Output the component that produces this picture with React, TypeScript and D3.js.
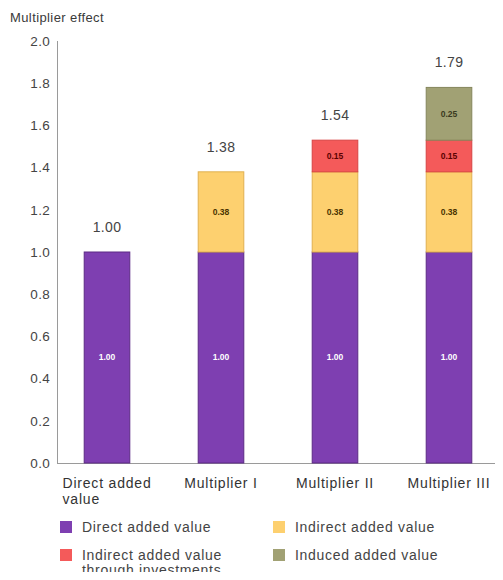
import React, { useEffect, useRef } from "react";
import * as d3 from "d3";

const categories = ["Direct added value", "Multiplier I", "Multiplier II", "Multiplier III"];
const categoryLines = [["Direct added", "value"], ["Multiplier I"], ["Multiplier II"], ["Multiplier III"]];
const directValues = [1.0, 1.0, 1.0, 1.0];
const indirectValues = [0, 0.38, 0.38, 0.38];
const investmentValues = [0, 0, 0.15, 0.15];
const inducedValues = [0, 0, 0, 0.25];
const totals = [1.0, 1.38, 1.54, 1.79];
const yTicks = [0, 0.2, 0.4, 0.6, 0.8, 1.0, 1.2, 1.4, 1.6, 1.8, 2.0];

const seriesKeys = ["direct", "indirect", "investments", "induced"];
const seriesNames = [
  ["Direct added value"],
  ["Indirect added value"],
  ["Indirect added value", "through investments"],
  ["Induced added value"],
];
const fills = ["#7e3fb1", "#fdd06f", "#f45a5a", "#a1a174"];
const strokes = ["#5c2a85", "#e0b050", "#d84444", "#85865c"];
const labelColors = ["#ffffff", "#4a3300", "#5a0000", "#3a3a20"];

const WIDTH = 503;
const HEIGHT = 580;
const FONT = "'Liberation Sans', Arial, sans-serif";

export default function App() {
  const svgRef = useRef<SVGSVGElement>(null);

  useEffect(() => {
    if (!svgRef.current) return;
    const svg = d3.select(svgRef.current);
    svg.selectAll("*").remove();

    const rows = categories.map((c, i) => ({
      category: c,
      direct: directValues[i],
      indirect: indirectValues[i],
      investments: investmentValues[i],
      induced: inducedValues[i],
    }));

    const x = d3
      .scaleBand<string>()
      .domain(categories)
      .range([50, 506])
      .paddingInner(0.6)
      .paddingOuter(0.3);

    const y = d3.scaleLinear().domain([0, 2]).range([463, 41]);

    const stack = d3.stack<any>().keys(seriesKeys);
    const stacked = stack(rows);

    // Title
    svg
      .append("text")
      .attr("x", 10)
      .attr("y", 22)
      .attr("font-family", FONT)
      .attr("font-size", 13)
      .attr("letter-spacing", 0.4)
      .attr("fill", "#3a3a3a")
      .text("Multiplier effect");

    // Axes
    svg
      .append("line")
      .attr("x1", 57.5)
      .attr("x2", 57.5)
      .attr("y1", y(2))
      .attr("y2", y(0))
      .attr("stroke", "#9a9a9a");

    svg
      .append("line")
      .attr("x1", 57)
      .attr("x2", 496)
      .attr("y1", y(0) + 0.5)
      .attr("y2", y(0) + 0.5)
      .attr("stroke", "#9a9a9a");

    svg
      .append("g")
      .selectAll("text")
      .data(yTicks)
      .join("text")
      .attr("x", 50)
      .attr("y", (d) => y(d))
      .attr("dy", "0.35em")
      .attr("text-anchor", "end")
      .attr("font-family", FONT)
      .attr("font-size", 13.5)
      .attr("letter-spacing", 0.3)
      .attr("fill", "#444")
      .text((d) => d3.format(".1f")(d));

    // Bars
    stacked.forEach((layer, si) => {
      const g = svg.append("g");
      layer.forEach((seg, i) => {
        const h = y(seg[0]) - y(seg[1]);
        if (h <= 0) return;
        g.append("rect")
          .attr("x", x(categories[i])!)
          .attr("y", y(seg[1]))
          .attr("width", x.bandwidth())
          .attr("height", h)
          .attr("fill", fills[si])
          .attr("stroke", strokes[si])
          .attr("stroke-width", 1);
        const v = (rows[i] as any)[seriesKeys[si]];
        g.append("text")
          .attr("x", x(categories[i])! + x.bandwidth() / 2)
          .attr("y", y((seg[0] + seg[1]) / 2))
          .attr("dy", "0.35em")
          .attr("text-anchor", "middle")
          .attr("font-family", FONT)
          .attr("font-size", 8.5)
          .attr("font-weight", "bold")
          .attr("fill", labelColors[si])
          .text(d3.format(".2f")(v));
      });
    });

    // Totals
    svg
      .append("g")
      .selectAll("text")
      .data(totals)
      .join("text")
      .attr("x", (_, i) => x(categories[i])! + x.bandwidth() / 2)
      .attr("y", (d, i) => y(stacked[stacked.length - 1][i][1]) - 20)
      .attr("text-anchor", "middle")
      .attr("font-family", FONT)
      .attr("font-size", 14)
      .attr("letter-spacing", 0.3)
      .attr("fill", "#444")
      .text((d) => d3.format(".2f")(d));

    // Category labels
    categoryLines.forEach((lines, i) => {
      const cx = x(categories[i])! + x.bandwidth() / 2;
      const t = svg
        .append("text")
        .attr("font-family", FONT)
        .attr("font-size", 14)
        .attr("letter-spacing", 0.8)
        .attr("fill", "#333");
      lines.forEach((line, li) => {
        t.append("tspan").attr("y", 488 + li * 16).text(line);
      });
      const first = t.select<SVGTSpanElement>("tspan").node()!;
      const w = first.getComputedTextLength();
      t.selectAll("tspan").attr("x", cx - w / 2);
    });

    // Legend
    const legendPos = [
      [60, 527],
      [273, 527],
      [60, 555],
      [273, 555],
    ];
    seriesKeys.forEach((_, si) => {
      const [lx, ly] = legendPos[si];
      svg
        .append("rect")
        .attr("x", lx)
        .attr("y", ly - 6)
        .attr("width", 12)
        .attr("height", 12)
        .attr("fill", fills[si]);
      const t = svg
        .append("text")
        .attr("font-family", FONT)
        .attr("font-size", 14)
        .attr("letter-spacing", 0.7)
        .attr("fill", "#444");
      seriesNames[si].forEach((line, li) => {
        t.append("tspan")
          .attr("x", lx + 22)
          .attr("y", ly + 5 + li * 15)
          .text(line);
      });
    });
  }, []);

  return (
    <svg
      ref={svgRef}
      width={WIDTH}
      height={HEIGHT}
      style={{ display: "block", margin: -8, background: "#fff" }}
    />
  );
}
